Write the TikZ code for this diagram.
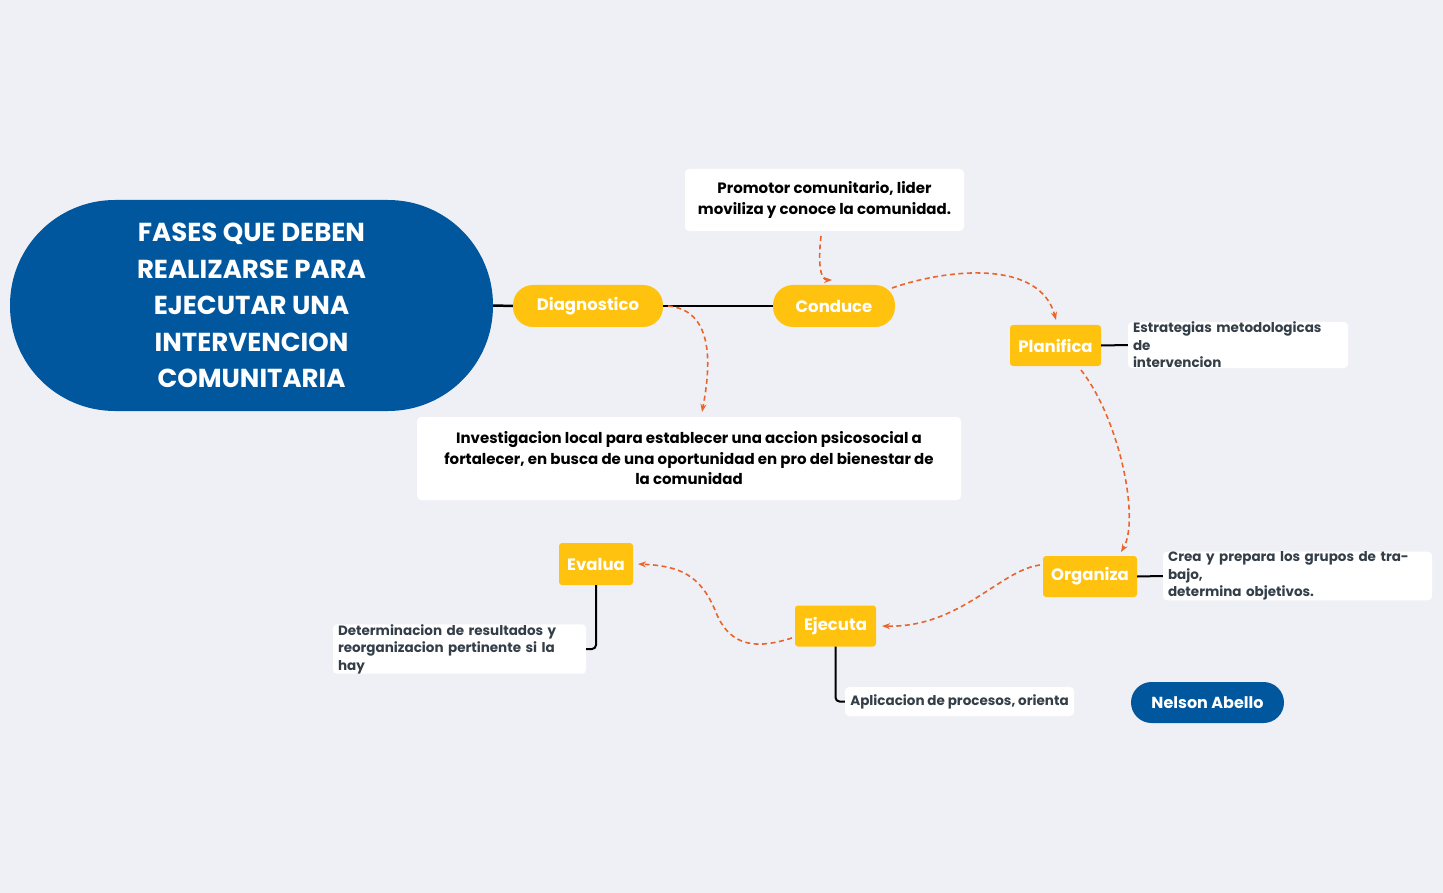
\documentclass[tikz,border=0pt]{standalone}
\usepackage{fontspec}
\setmainfont{Poppins}
\usetikzlibrary{arrows.meta}
\definecolor{bg}{RGB}{239,240,245}
\definecolor{blu}{RGB}{0,87,158}
\definecolor{yel}{RGB}{255,194,14}
\definecolor{org}{RGB}{232,101,46}
\definecolor{dk}{RGB}{51,62,72}
\begin{document}
\begin{tikzpicture}[x=1pt,y=-1pt,
 ybox/.style={fill=yel,text=white,font=\fontsize{16.5}{19}\selectfont\bfseries,inner sep=0,align=center},
 wbox/.style={fill=white,rounded corners=4,inner sep=0,align=center,font=\fontsize{15}{20.5}\selectfont\bfseries},
 sbox/.style={fill=white,rounded corners=4,inner sep=0,text=dk,font=\fontsize{13.5}{17.5}\selectfont\bfseries},
 da/.style={org,dashed,line width=1.6pt,dash pattern=on 5pt off 3.5pt,-{Stealth[length=8pt,width=6pt]}},
 ln/.style={black,line width=2.5pt}]
\fill[bg] (0,0) rectangle (1443,893);
\useasboundingbox (0,0) rectangle (1443,893);
\node[fill=blu,rounded corners=105,minimum width=483,minimum height=211,text=white,font=\fontsize{26}{36.5}\selectfont\bfseries,align=center] (t) at (251.5,305.5) {FASES QUE DEBEN\\REALIZARSE PARA\\EJECUTAR UNA\\INTERVENCION\\COMUNITARIA};
\node[ybox,rounded corners=20,minimum width=150,minimum height=42] (dg) at (588,306) {Diagnostico};
\node[ybox,rounded corners=20,minimum width=122,minimum height=42] (cd) at (834,306) {Conduce};
\draw[ln] (t.east) -- (dg.west);
\draw[ln] (dg.east) -- (cd.west);
\node[wbox,minimum width=279,minimum height=62] (pr) at (824.5,200) {Promotor comunitario, lider\\moviliza y conoce la comunidad.};
\node[wbox,minimum width=544,minimum height=83] (inv) at (689,458.5) {Investigacion local para establecer una accion psicosocial a\\fortalecer, en busca de una oportunidad en pro del bienestar de\\la comunidad};
\node[ybox,rounded corners=3,minimum width=91,minimum height=41] (pl) at (1055.5,345.5) {Planifica};
\node[sbox,minimum width=220,minimum height=46,align=left,text width=210] (es) at (1238,345) {Estrategias metodologicas de\\intervencion};
\node[ybox,rounded corners=3,minimum width=94,minimum height=41] (og) at (1090,576.5) {Organiza};
\node[sbox,minimum width=269,minimum height=46,align=left,text width=259] (cr) at (1297.5,576) {Crea y prepara los grupos de trabajo,\\determina objetivos.};
\node[ybox,rounded corners=3,minimum width=81,minimum height=41] (ej) at (835.5,626) {Ejecuta};
\node[sbox,minimum width=229,minimum height=29] (ap) at (959.5,701.5) {Aplicacion de procesos, orienta};
\node[ybox,rounded corners=3,minimum width=74,minimum height=42] (ev) at (596,564) {Evalua};
\node[sbox,minimum width=253,minimum height=46,align=left,text width=243] (de) at (459.5,649) {Determinacion de resultados y\\reorganizacion pertinente si la hay};
\node[fill=blu,rounded corners=20.5,minimum width=153,minimum height=41,text=white,font=\fontsize{16}{19}\selectfont\bfseries,inner sep=0] (na) at (1207.5,702.5) {Nelson Abello};
\draw[line width=2pt] (pl.east) -- (es.west);
\draw[line width=2pt] (og.east) -- (cr.west);
\draw[line width=2pt,rounded corners=4] (ej.south) |- (ap.west);
\draw[line width=2pt,rounded corners=4] (ev.south) |- (de.east);
\draw[da] (821,236) .. controls (818,262) and (820,280) .. (832,280);
\draw[da] (668,306) .. controls (712,310) and (712,360) .. (702,412);
\draw[da] (892,288) .. controls (950,268) and (1040,260) .. (1056,320);
\draw[da] (1081,370) .. controls (1120,420) and (1140,520) .. (1121,552);
\draw[da] (1040,565) .. controls (1000,570) and (960,628) .. (882,626);
\draw[da] (792,638) .. controls (760,648) and (730,650) .. (715,610) .. controls (700,575) and (680,566) .. (638,564);
\end{tikzpicture}
\end{document}
